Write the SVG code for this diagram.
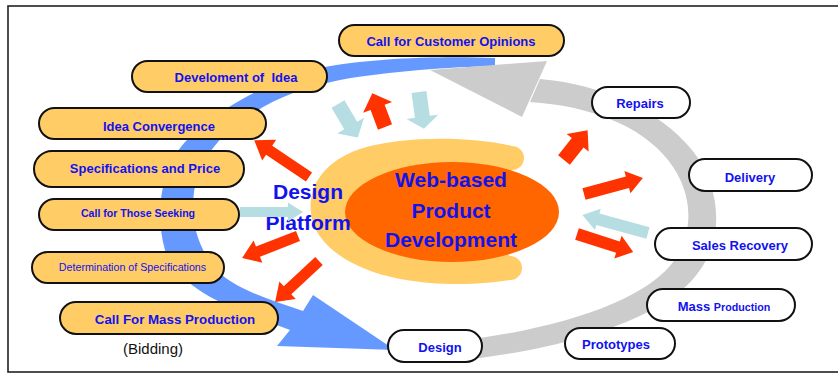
<svg xmlns="http://www.w3.org/2000/svg" width="838" height="374" viewBox="0 0 838 374">
  <style>
    .pill-y { fill: #FFCC66; stroke: #111; stroke-width: 2; }
    .pill-w { fill: #FFFFFF; stroke: #111; stroke-width: 2; }
    .lbl { font-family: "Liberation Sans", Arial, sans-serif; font-weight: bold; fill: #1212EE; text-anchor: middle; }
    .lbl-r { font-family: "Liberation Sans", Arial, sans-serif; font-weight: normal; fill: #1212EE; text-anchor: middle; }
    .big { font-family: "Liberation Sans", Arial, sans-serif; font-weight: bold; fill: #1212EE; text-anchor: middle; font-size: 20px; }
    .plat { font-size: 21px; }
    .red { fill: #FF3300; }
    .pale { fill: #B6DEE2; }
  </style>

  <rect x="0" y="0" width="838" height="374" fill="#FFFFFF"/>
  <rect x="8" y="6" width="840" height="366" fill="none" stroke="#222" stroke-width="1.6"/>

  <!-- cycle bands -->
  <g id="cycle">
    <!-- blue sweep from the top round the left side down to Design -->
    <path fill="#6699FF" d="M 495,58 C 440,56 370,58 320,68 C 270,80 215,110 185,142 C 160,170 155,215 165,250 C 175,280 210,300 250,315 L 290,330 L 277,346 L 395,350 L 313,295 L 303,311 C 270,300 240,290 222,275 C 198,252 190,222 194,192 C 198,165 215,140 240,122 C 270,100 300,88 340,80 C 390,71 450,67 495,66 Z"/>
    <!-- grey return band from Design round the right side back to the top -->
    <path fill="#CCCCCC" d="M 540,79 C 600,84 660,110 692,150 C 720,185 725,235 700,270 C 670,315 580,345 480,358 L 430,358 L 430,338 L 480,338 C 570,325 650,298 676,258 C 695,228 692,190 668,160 C 640,125 590,106 530,102 Z"/>
    <path fill="#CCCCCC" d="M 430,70 L 547,61 L 522,117 Z"/>
  </g>

  <!-- central hub -->
  <g id="hub">
    <path fill="#FFCC66" d="M 512,146 C 470,136 400,136 360,149 C 322,162 308,188 311,213 C 314,242 345,268 400,279 C 445,287 485,284 510,280 A 12 12 0 0 0 510,256 L 452,212 L 512,170 A 12 12 0 0 0 512,146 Z"/>
    <ellipse cx="452" cy="212" rx="107" ry="50" fill="#FF6600"/>
    <text class="big" x="451" y="187" textLength="112" lengthAdjust="spacingAndGlyphs">Web-based</text>
    <text class="big" x="451" y="218" textLength="79" lengthAdjust="spacingAndGlyphs">Product</text>
    <text class="big" x="451" y="247" textLength="132" lengthAdjust="spacingAndGlyphs">Development</text>
  </g>

  <g id="platform">
    <text class="big plat" x="308" y="199">Design</text>
    <text class="big plat" x="308" y="230">Platform</text>
  </g>

  <!-- connectors -->
  <g id="connectors">
    <path class="red" transform="translate(309,177) rotate(213.9)" d="M0,-5.5 L48,-5.5 L48,-12.5 L66,0 L48,12.5 L48,5.5 L0,5.5 Z"/>
    <path class="red" transform="translate(298,236) rotate(158.6)" d="M0,-5.5 L43,-5.5 L43,-12 L60,0 L43,12 L43,5.5 L0,5.5 Z"/>
    <path class="red" transform="translate(319,261) rotate(137)" d="M0,-5.5 L43,-5.5 L43,-12 L60,0 L43,12 L43,5.5 L0,5.5 Z"/>
    <path class="red" transform="translate(385,127) rotate(249.4)" d="M0,-7.5 L21,-7.5 L21,-15.5 L36,0 L21,15.5 L21,7.5 L0,7.5 Z"/>
    <path class="red" transform="translate(564,160) rotate(-51.6)" d="M0,-7.5 L22,-7.5 L22,-14 L38,0 L22,14 L22,7.5 L0,7.5 Z"/>
    <path class="red" transform="translate(584,194) rotate(-15.2)" d="M0,-6 L45,-6 L45,-11.5 L61,0 L45,11.5 L45,6 L0,6 Z"/>
    <path class="red" transform="translate(577,234) rotate(17.8)" d="M0,-6 L43,-6 L43,-12 L59,0 L43,12 L43,6 L0,6 Z"/>
    <path class="pale" transform="translate(338,104) rotate(59.5)" d="M0,-7.5 L25,-7.5 L25,-15.5 L39,0 L25,15.5 L25,7.5 L0,7.5 Z"/>
    <path class="pale" transform="translate(419,92) rotate(82.3)" d="M0,-7.5 L25,-7.5 L25,-16 L37,0 L25,16 L25,7.5 L0,7.5 Z"/>
    <path class="pale" transform="translate(240,212)" d="M0,-5 L48,-5 L48,-9.5 L63,0 L48,9.5 L48,5 L0,5 Z"/>
    <path class="pale" transform="translate(648,233) rotate(195.3)" d="M0,-6 L52,-6 L52,-11 L68,0 L52,11 L52,6 L0,6 Z"/>
  </g>

  <!-- left-hand steps -->
  <g id="customer-opinions">
    <rect class="pill-y" x="339" y="25" width="225" height="31" rx="15.5"/>
    <text class="lbl" x="451" y="46" font-size="13">Call for Customer Opinions</text>
  </g>
  <g id="idea-development">
    <rect class="pill-y" x="132" y="61" width="195" height="31" rx="15.5"/>
    <text class="lbl" x="236" y="82" font-size="13" xml:space="preserve">Develoment of  Idea</text>
  </g>
  <g id="idea-convergence">
    <rect class="pill-y" x="39" y="108" width="227" height="31" rx="15.5"/>
    <text class="lbl" x="159" y="131" font-size="13">Idea Convergence</text>
  </g>
  <g id="specs-price">
    <rect class="pill-y" x="34" y="151" width="210" height="36" rx="18"/>
    <text class="lbl" x="145" y="173" font-size="13">Specifications and Price</text>
  </g>
  <g id="call-seeking">
    <rect class="pill-y" x="39" y="199" width="200" height="31" rx="15.5"/>
    <text class="lbl" x="138" y="217" font-size="10.6">Call for Those Seeking</text>
  </g>
  <g id="spec-determination">
    <rect class="pill-y" x="32" y="252" width="192" height="31" rx="15.5"/>
    <text class="lbl-r" x="132.5" y="271" font-size="10.7">Determination of Specifications</text>
  </g>
  <g id="mass-production-call">
    <rect class="pill-y" x="60" y="302" width="218" height="32" rx="16"/>
    <text class="lbl" x="175" y="324" font-size="13.3">Call For Mass Production</text>
    <text x="153" y="354" font-family="'Liberation Sans', Arial, sans-serif" font-size="15" fill="#111" text-anchor="middle">(Bidding)</text>
  </g>

  <!-- right-hand steps -->
  <g id="repairs">
    <rect class="pill-w" x="592" y="87" width="98" height="31" rx="15.5"/>
    <text class="lbl" x="640" y="108" font-size="13">Repairs</text>
  </g>
  <g id="delivery">
    <rect class="pill-w" x="689" y="159" width="123" height="32" rx="16"/>
    <text class="lbl" x="750" y="182" font-size="13">Delivery</text>
  </g>
  <g id="sales-recovery">
    <rect class="pill-w" x="655" y="228" width="157" height="32" rx="16"/>
    <text class="lbl" x="740" y="250" font-size="13">Sales Recovery</text>
  </g>
  <g id="mass-production">
    <rect class="pill-w" x="647" y="289" width="148" height="32" rx="16"/>
    <text class="lbl" x="724" y="311" font-size="13">Mass <tspan font-size="10.7">Production</tspan></text>
  </g>
  <g id="prototypes">
    <rect class="pill-w" x="565" y="328" width="110" height="31" rx="15.5"/>
    <text class="lbl" x="616" y="349" font-size="13">Prototypes</text>
  </g>
  <g id="design">
    <rect class="pill-w" x="388" y="330" width="94" height="32" rx="16"/>
    <text class="lbl" x="440" y="352" font-size="13">Design</text>
  </g>
</svg>
